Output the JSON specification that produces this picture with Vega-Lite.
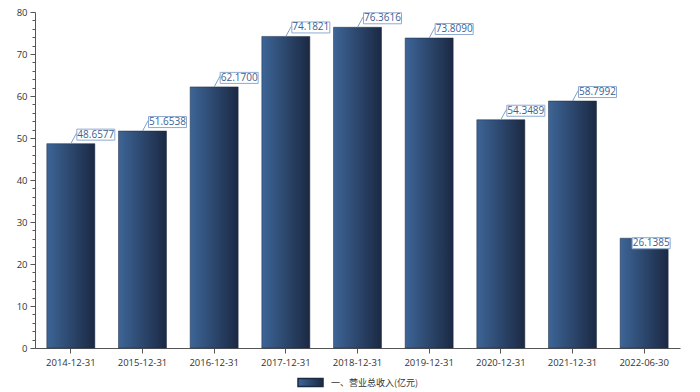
{
  "$schema": "https://vega.github.io/schema/vega-lite/v6.json",
  "width": 645,
  "height": 336,
  "autosize": {"type": "none"},
  "padding": {"left": 35, "top": 12, "right": 20, "bottom": 44},
  "background": "white",
  "config": {"view": {"stroke": null}, "font": "Open Sans"},
  "data": {
    "values": [
      {"date": "2014-12-31", "value": 48.6577, "series": "一、营业总收入(亿元)"},
      {"date": "2015-12-31", "value": 51.6538, "series": "一、营业总收入(亿元)"},
      {"date": "2016-12-31", "value": 62.17, "series": "一、营业总收入(亿元)"},
      {"date": "2017-12-31", "value": 74.1821, "series": "一、营业总收入(亿元)"},
      {"date": "2018-12-31", "value": 76.3616, "series": "一、营业总收入(亿元)"},
      {"date": "2019-12-31", "value": 73.809, "series": "一、营业总收入(亿元)"},
      {"date": "2020-12-31", "value": 54.3489, "series": "一、营业总收入(亿元)"},
      {"date": "2021-12-31", "value": 58.7992, "series": "一、营业总收入(亿元)"},
      {"date": "2022-06-30", "value": 26.1385, "series": "一、营业总收入(亿元)"}
    ]
  },
  "encoding": {
    "x": {
      "field": "date", "type": "nominal", "sort": null,
      "scale": {"paddingInner": 0.33, "paddingOuter": 0.165},
      "axis": {"title": null, "labelAngle": 0, "grid": false, "domainColor": "#555", "tickColor": "#555", "tickSize": 5, "labelFontSize": 9.5, "labelColor": "#333", "labelPadding": 4}
    },
    "y": {
      "field": "value", "type": "quantitative",
      "scale": {"domain": [0, 80], "nice": false},
      "axis": {
        "title": null, "grid": false,
        "values": [0,2,4,6,8,10,12,14,16,18,20,22,24,26,28,30,32,34,36,38,40,42,44,46,48,50,52,54,56,58,60,62,64,66,68,70,72,74,76,78,80],
        "labelExpr": "datum.value % 10 === 0 ? datum.label : ''",
        "tickSize": {"condition": {"test": "datum.value % 10 === 0", "value": 5}, "value": 3},
        "domainColor": "#555", "tickColor": "#555", "labelFontSize": 9.5, "labelColor": "#333", "labelPadding": 3
      }
    }
  },
  "layer": [
    {
      "mark": {
        "type": "bar",
        "fill": {"gradient": "linear", "x1": 0, "x2": 1, "y1": 0, "y2": 0, "stops": [{"offset": 0, "color": "#3d6597"}, {"offset": 1, "color": "#1b2943"}]},
        "stroke": "#1b2943", "strokeWidth": 0.5
      },
      "encoding": {
        "opacity": {
          "field": "series", "type": "nominal", "scale": {"range": [1]},
          "legend": {
            "title": null, "orient": "none", "legendX": 262, "legendY": 357,
            "symbolType": "M-1,-0.32L1,-0.32L1,0.32L-1,0.32Z", "symbolSize": 625,
            "labelFont": "Noto Sans CJK SC", "labelFontSize": 9, "labelColor": "#333", "labelOffset": 7,
            "encode": {"symbols": {"update": {"fill": {"value": {"gradient": "linear", "x1": 0, "x2": 1, "y1": 0, "y2": 0, "stops": [{"offset": 0, "color": "#3d6597"}, {"offset": 1, "color": "#1b2943"}]}}, "stroke": {"value": "transparent"}, "opacity": {"value": 1}}}}
          }
        }
      }
    },
    {
      "transform": [{"filter": "datum.date !== '2022-06-30'"}],
      "mark": {"type": "rule", "x2Offset": 6, "y2Offset": -11, "color": "#7f9fc6", "strokeWidth": 1},
      "encoding": {"x2": {"field": "date"}, "y2": {"field": "value"}}
    },
    {
      "transform": [{"filter": "datum.date !== '2022-06-30'"}],
      "mark": {"type": "point", "shape": "M-1,-0.29L1,-0.29L1,0.29L-1,0.29Z", "size": 1444, "filled": true, "fill": "white", "stroke": "#8eaad0", "strokeWidth": 1, "opacity": 1, "xOffset": 25, "yOffset": -9},
      "encoding": {}
    },
    {
      "transform": [{"filter": "datum.date !== '2022-06-30'"}],
      "mark": {"type": "text", "dx": 25, "dy": -9, "baseline": "middle", "align": "center", "fontSize": 10, "color": "#3a6195"},
      "encoding": {"text": {"field": "value", "type": "quantitative", "format": ".4f"}}
    },
    {
      "transform": [{"filter": "datum.date === '2022-06-30'"}],
      "mark": {"type": "point", "shape": "M-1,-0.29L1,-0.29L1,0.29L-1,0.29Z", "size": 1444, "filled": true, "fill": "white", "stroke": "#8eaad0", "strokeWidth": 1, "opacity": 1, "xOffset": 7, "yOffset": 5},
      "encoding": {}
    },
    {
      "transform": [{"filter": "datum.date === '2022-06-30'"}],
      "mark": {"type": "text", "dx": 7, "dy": 5, "baseline": "middle", "align": "center", "fontSize": 10, "color": "#3a6195"},
      "encoding": {"text": {"field": "value", "type": "quantitative", "format": ".4f"}}
    }
  ]
}
